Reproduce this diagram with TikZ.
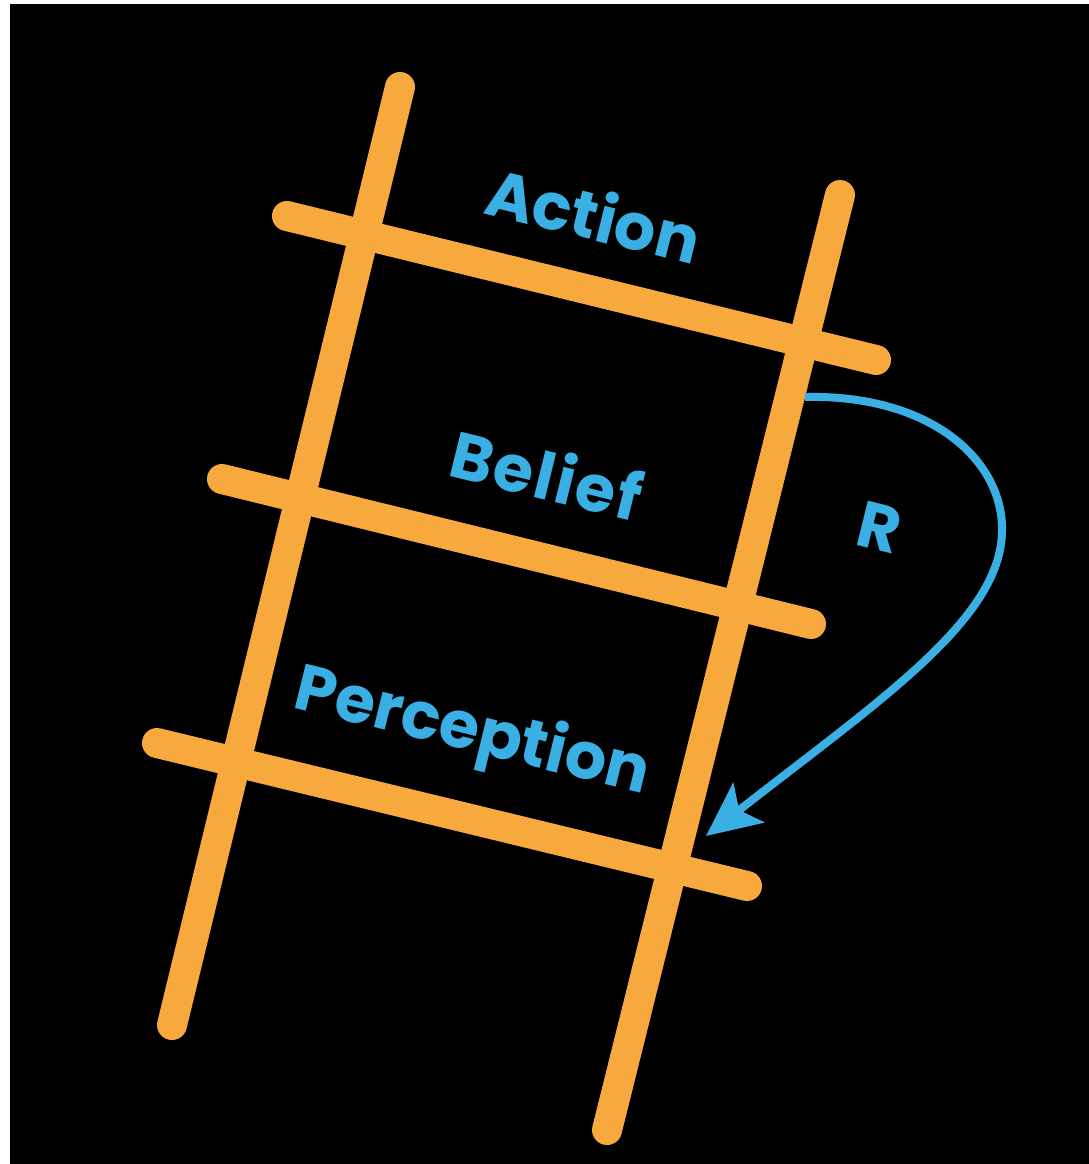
\documentclass[tikz,border=0pt]{standalone}
\usepackage{fontspec}
\setmainfont{Poppins}
\usetikzlibrary{arrows.meta}
\definecolor{ladderorange}{HTML}{F8A93E}
\definecolor{labelblue}{HTML}{3AAFE3}
\tikzset{
  rail/.style={draw=ladderorange, line width=30pt, line cap=round},
  lbl/.style={text=labelblue, font=\bfseries\fontsize{65}{65}\selectfont, rotate=-13.8, inner sep=0pt},
  rarrow/.style={draw=labelblue, line width=8pt,
    -{Stealth[length=54pt,width=50pt,inset=12pt]}}
}
\begin{document}
\begin{tikzpicture}[x=1pt,y=-1pt]
\useasboundingbox (0,0) rectangle (1089,1164);
\fill[white] (0,0) rectangle (1089,1164);
\fill[black] (10,4) rectangle (1089,1164);
% rails
\coordinate (LT) at (400,87);
\coordinate (LB) at (172,1025);
\coordinate (RT) at (840,195);
\coordinate (RB) at (607,1130);
% rungs
\coordinate (A1) at (287,216);
\coordinate (A2) at (876,360);
\coordinate (B1) at (222,479);
\coordinate (B2) at (811,624);
\coordinate (C1) at (157,743);
\coordinate (C2) at (747,886);
\draw[rail] (LT) -- (LB);
\draw[rail] (RT) -- (RB);
\draw[rail] (A1) -- (A2);
\draw[rail] (B1) -- (B2);
\draw[rail] (C1) -- (C2);
% labels
\node[lbl] (action) at (594,214) {Action};
\node[lbl] (belief) at (547,474) {B\kern2pt e\kern2pt l\kern2pt i\kern2pt e\kern2pt f};
\node[lbl] (perception) at (472,734) {Perception};
\node[lbl] (r) at (880,527) {R};
% arrow
\coordinate (S) at (805,397);
\coordinate (M) at (1002,532);
\coordinate (E) at (706,836);
\draw[rarrow] (S) .. controls (930,394) and (1004,460) .. (M)
  .. controls (1000,620) and (880,700) .. (E);
\end{tikzpicture}
\end{document}
